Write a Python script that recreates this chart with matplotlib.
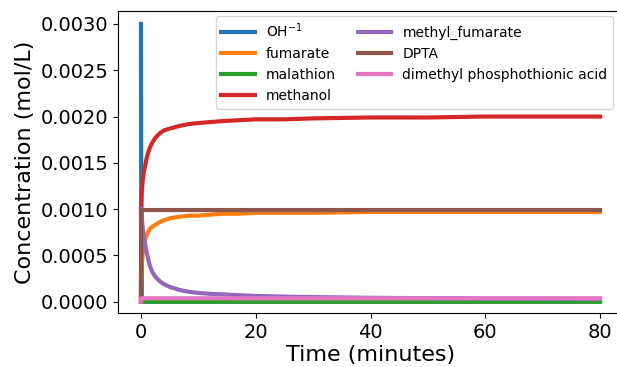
"""Malathion hydrolysis kinetics: species concentrations over time."""

import matplotlib
matplotlib.use("Agg")
import matplotlib.pyplot as plt

# time points (minutes) and concentrations (mol/L)
time_min = [0, 0.05, 0.15, 0.3, 0.5, 0.7, 1.0, 1.3, 1.6, 2.0, 2.5, 3.3, 4, 5, 6.8,
            8.5, 10, 12, 14, 17, 20, 25, 30, 40, 50, 60, 70, 80]

hydroxide = [0.003, 0.0011, 0.00002] + [0] * 25
fumarate = [0, 0.0002, 0.0004, 0.00053, 0.00062, 0.00067, 0.00072, 0.00076, 0.00079,
            0.00081, 0.00083, 0.00086, 0.00088, 0.0009, 0.00092, 0.00093, 0.00093,
            0.00094, 0.00095, 0.00095, 0.00096, 0.00096, 0.00096, 0.00097, 0.00097,
            0.00097, 0.00097, 0.00097]
malathion = [0.001] + [0] * 27
methanol = [0, 0.00102, 0.0012, 0.0013, 0.0014, 0.00146, 0.00155, 0.00162, 0.00167,
            0.00172, 0.00177, 0.00182, 0.00185, 0.00187, 0.0019, 0.00192, 0.00193,
            0.00194, 0.00195, 0.00196, 0.00197, 0.00197, 0.00198, 0.00199, 0.00199,
            0.002, 0.002, 0.002]
methyl_fumarate = [0.001, 0.00098, 0.0009, 0.0008, 0.0007, 0.00063, 0.00053, 0.00045,
                   0.00038, 0.00032, 0.00027, 0.00022, 0.00019, 0.00016, 0.000126,
                   0.000105, 0.000095, 0.000085, 0.00008, 0.00007, 0.000062, 0.000055,
                   0.00005, 0.000042, 0.000038, 0.000035, 0.000033, 0.00003]
dpta = [0] + [0.00099] * 27
dmpta = [0] + [0.000037] * 27

series = [
    (hydroxide, "OH$^{-1}$"),
    (fumarate, "fumarate"),
    (malathion, "malathion"),
    (methanol, "methanol"),
    (methyl_fumarate, "methyl_fumarate"),
    (dpta, "DPTA"),
    (dmpta, "dimethyl phosphothionic acid"),
]

fig = plt.figure(figsize=(6.17, 3.67), dpi=100)
ax = fig.add_axes([118 / 617, 54 / 367, 505 / 617, 302 / 367])

for values, label in series:
    ax.plot(time_min, values, label=label, linewidth=3)

ax.set_xlim(-4, 84)
ax.set_ylim(-0.000122, 0.00314)
ax.set_xticks([0, 20, 40, 60, 80])
ax.set_yticks([0, 0.0005, 0.001, 0.0015, 0.002, 0.0025, 0.003])
ax.yaxis.set_major_formatter(matplotlib.ticker.FormatStrFormatter("%.4f"))
ax.spines["right"].set_visible(False)  # cut off at the figure edge in the original
ax.tick_params(labelsize=14)
ax.set_xlabel("Time (minutes)", fontsize=16, labelpad=2)
ax.set_ylabel("Concentration (mol/L)", fontsize=16)

ax.legend(ncol=2, fontsize=10, loc="upper right", borderaxespad=0,
          bbox_to_anchor=(613 / 617, 1 - 16 / 367), bbox_transform=fig.transFigure,
          handlelength=2.4, columnspacing=1.6)

fig.savefig("out.png")
